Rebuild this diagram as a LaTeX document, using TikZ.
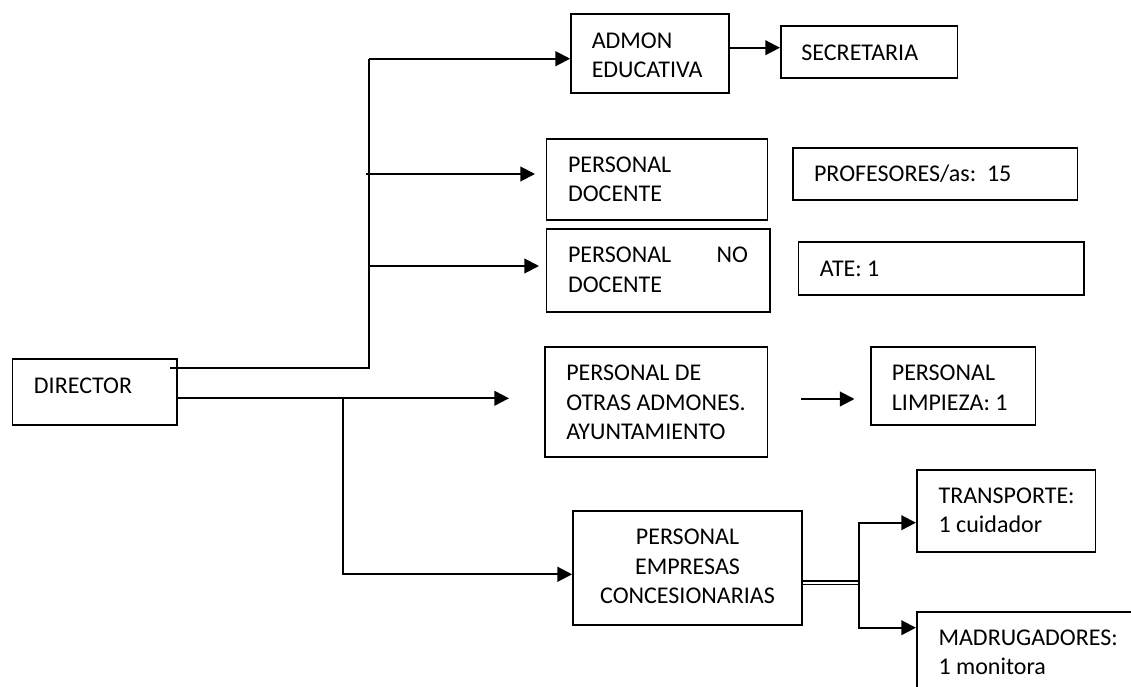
\documentclass[tikz,border=0pt]{standalone}
\usepackage{fontspec}
\setmainfont{Carlito}
\usetikzlibrary{arrows.meta,fit}
\begin{document}
\begin{tikzpicture}[x=0.75pt,y=-0.75pt,
  box/.style={draw=black,line width=1.3pt,inner sep=0pt,fill=none},
  txt/.style={anchor=base west,inner sep=0pt,font=\fontsize{18pt}{21.75pt}\selectfont},
  ln/.style={line width=1.5pt},
  arr/.style={line width=1.5pt,-{Triangle[length=11pt,width=11pt]}},
  dbl/.style={line width=1pt}]
\useasboundingbox (0,0) rectangle (1131,686);
\clip (0,0) rectangle (1131,686);
\fill[white] (0,0) rectangle (1131,686);
% boxes
\node[box,fit={(12.6,359) (177.2,425)}] (dir) {};
\node[box,fit={(571,14.3) (729.3,92.7)}] (adm) {};
\node[box,fit={(780.8,25.7) (957.6,78.3)}] (sec) {};
\node[box,fit={(546.5,139) (767.5,220.3)}] (doc) {};
\node[box,fit={(792.7,148) (1077.6,200.3)}] (prof) {};
\node[box,fit={(546.5,229.3) (769.7,311.7)}] (nodoc) {};
\node[box,fit={(798.6,242) (1084,294.7)}] (ate) {};
\node[box,fit={(545,346.7) (767.5,457)}] (otras) {};
\node[box,fit={(870.9,346.7) (1035.4,425.3)}] (limp) {};
\node[box,fit={(573,511) (802,625.3)}] (emp) {};
\node[box,fit={(916.8,469.7) (1095.4,551.7)}] (trans) {};
\node[box,fit={(916.8,611.7) (1160,720)}] (madr) {};
% texts
\node[txt] (tdir) at (33.7,393.3) {DIRECTOR};
\node[txt] (tadm1) at (591.5,48.3) {ADMON};
\node[txt] (tadm2) at (591.5,77.3) {EDUCATIVA};
\node[txt] (tsec) at (801.2,60) {SECRETARIA};
\node[txt] (tdoc1) at (567.8,172.7) {PERSONAL};
\node[txt] (tdoc2) at (567.8,201.7) {DOCENTE};
\node[txt] (tprof) at (813.8,181.7) {PROFESORES/as:\ \ 15};
\node[txt] (tnd1) at (567.8,262.7) {PERSONAL};
\node[txt,anchor=base east] (tnd2) at (748.2,262.7) {NO};
\node[txt] (tnd3) at (567.8,292.3) {DOCENTE};
\node[txt] (tate) at (819.7,276) {ATE: 1};
\node[txt] (tot1) at (566,380.7) {PERSONAL DE};
\node[txt] (tot2) at (566,410) {OTRAS ADMONES.};
\node[txt] (tot3) at (566,439) {AYUNTAMIENTO};
\node[txt] (tli1) at (891.6,380.7) {PERSONAL};
\node[txt] (tli2) at (891.6,410) {LIMPIEZA: 1};
\node[txt,anchor=base] (tem1) at (687.5,544.3) {PERSONAL};
\node[txt,anchor=base] (tem2) at (687.5,574.3) {EMPRESAS};
\node[txt,anchor=base] (tem3) at (687.5,603.3) {CONCESIONARIAS};
\node[txt] (ttr1) at (938.3,503.3) {TRANSPORTE:};
\node[txt] (ttr2) at (938.3,532.7) {1 cuidador};
\node[txt] (tma1) at (938.3,645.3) {MADRUGADORES:};
\node[txt] (tma2) at (938.3,674.3) {1 monitora};
% coordinates
\coordinate (d1) at (169.5,368.3);
\coordinate (tA) at (369.3,368.3);
\coordinate (tB) at (369.3,58.7);
\coordinate (pd0) at (365.5,174);
\coordinate (pd1) at (535,174);
\coordinate (nd0) at (369.3,266);
\coordinate (nd1) at (539,266);
\coordinate (d2) at (509,398.3);
\coordinate (lA) at (343,398.3);
\coordinate (lB) at (343,574.3);
\coordinate (f0) at (801,399);
\coordinate (f1) at (854.5,399);
\coordinate (eA) at (859,522.7);
\coordinate (eB) at (859,627.7);
% connectors
\draw[ln] (d1) -- (tA) -- (tB);
\draw[arr] (tB) -- (adm.west |- tB);
\draw[arr] (pd0) -- (pd1);
\draw[arr] (nd0) -- (nd1);
\draw[arr] (dir.east |- d2) -- (d2);
\draw[arr] (lA) -- (lB) -- (emp.west |- lB);
\draw[arr] (adm.east |- 0,47.7) -- (sec.west |- 0,47.7);
\draw[arr] (f0) -- (f1);
\draw[dbl] (emp.east |- 0,581) -- (eA |- 0,581);
\draw[dbl] (emp.east |- 0,584.5) -- (eA |- 0,584.5);
\draw[arr] (eB) -- (eA) -- (trans.west |- eA);
\draw[arr] (eA) -- (eB) -- (madr.west |- eB);
\end{tikzpicture}
\end{document}
